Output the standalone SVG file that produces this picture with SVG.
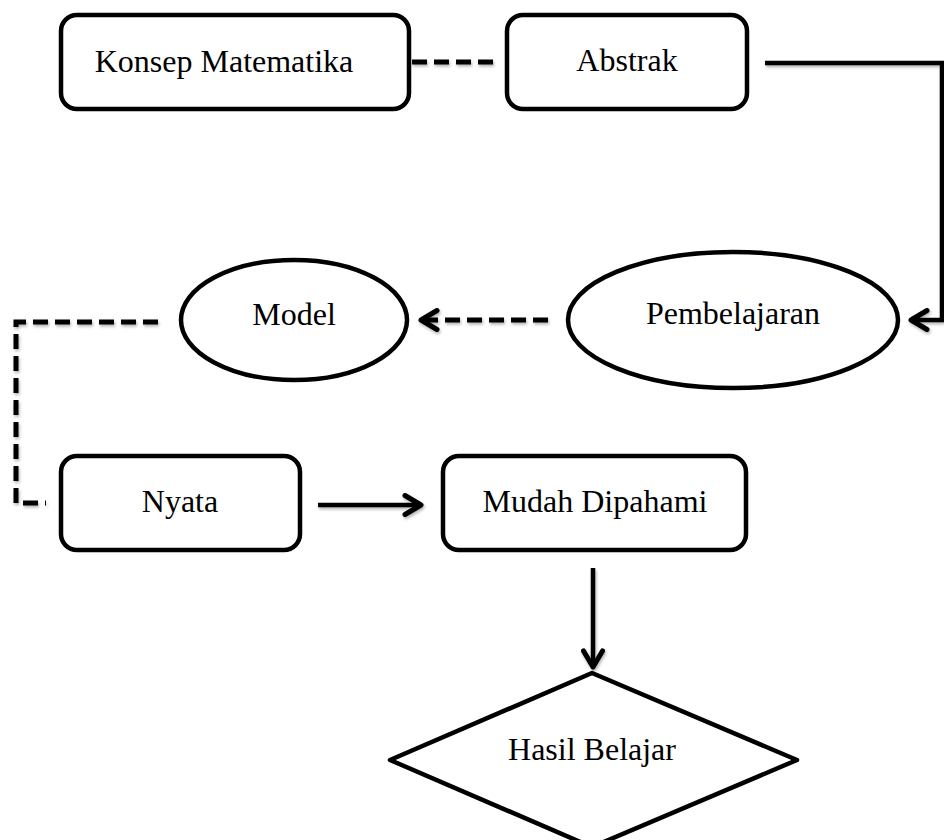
<svg xmlns="http://www.w3.org/2000/svg" width="944" height="840" viewBox="0 0 944 840">
<defs>
<style>
.box{fill:#fff;stroke:#000;stroke-width:4.5}
.lbl{font-family:"Liberation Serif","Times New Roman",serif;font-size:32px;fill:#000;text-anchor:middle}
.con{fill:none;stroke:#000;stroke-width:4.5;filter:url(#sh)}
.dash{stroke-width:5;stroke-dasharray:15 7}
</style>
<filter id="sh" filterUnits="userSpaceOnUse" x="0" y="0" width="944" height="840">
<feDropShadow dx="1" dy="2" stdDeviation="1.5" flood-color="#000" flood-opacity="0.3"/>
</filter>
<marker id="ah" viewBox="0 0 22 24" refX="19" refY="12" markerWidth="22" markerHeight="24" markerUnits="userSpaceOnUse" orient="auto">
<path d="M3,2.5 L19,12 L3,21.5" fill="none" stroke="#000" stroke-width="5" stroke-linecap="round" stroke-linejoin="round"/>
</marker>
</defs>
<rect width="944" height="840" fill="#fff"/>
<g id="connectors">
<path class="con dash" d="M412,62 H496"/>
<path class="con" d="M765,63 H942 V320 H911" marker-end="url(#ah)"/>
<path class="con dash" d="M548,320 H421" marker-end="url(#ah)"/>
<path class="con dash" d="M158,322 H16 V503 H46"/>
<path class="con" d="M318,505 H421" marker-end="url(#ah)"/>
<path class="con" d="M593,568 V667" marker-end="url(#ah)"/>
</g>
<g id="konsep">
<rect class="box" x="61" y="15" width="348" height="94" rx="16"/>
<text class="lbl" x="224" y="72">Konsep Matematika</text>
</g>
<g id="abstrak">
<rect class="box" x="507" y="15" width="240" height="94" rx="16"/>
<text class="lbl" x="627" y="71">Abstrak</text>
</g>
<g id="pembelajaran">
<ellipse class="box" cx="733" cy="320" rx="165" ry="68"/>
<text class="lbl" x="733" y="324">Pembelajaran</text>
</g>
<g id="model">
<ellipse class="box" cx="294" cy="320" rx="113" ry="60"/>
<text class="lbl" x="294" y="325">Model</text>
</g>
<g id="nyata">
<rect class="box" x="61" y="456" width="239" height="94" rx="16"/>
<text class="lbl" x="180" y="512">Nyata</text>
</g>
<g id="mudah">
<rect class="box" x="443" y="456" width="303" height="94" rx="16"/>
<text class="lbl" x="595" y="512">Mudah Dipahami</text>
</g>
<g id="hasil">
<polygon class="box" points="592,673 797,760 592,847 390,760" stroke-linejoin="round"/>
<text class="lbl" x="592" y="760">Hasil Belajar</text>
</g>
</svg>
